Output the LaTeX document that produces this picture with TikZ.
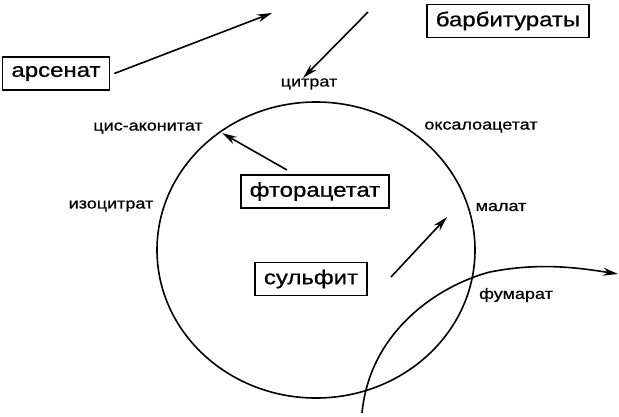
\documentclass[tikz,border=0pt]{standalone}
\usepackage{fontspec}
\setmainfont[FakeStretch=1.2,FakeBold=0.8]{Liberation Sans}
\usetikzlibrary{arrows.meta}
\tikzset{
  inhib/.style={draw, line width=1.6pt, inner xsep=9pt, minimum height=33pt, font=\fontsize{20}{24}\selectfont},
  metab/.style={font=\fontsize{15}{18}\selectfont},
  block/.style={line width=1.6pt, -{Stealth[length=15pt,width=8pt]}}
}
\begin{document}
\begin{tikzpicture}[x=1pt,y=-1pt]
			%%%%% START %%%%%
			\useasboundingbox (0,0) rectangle (619,416);
			
			\draw[line width=1.6pt] (316,250) ellipse [x radius=159pt, y radius=148pt];
			
			\node[metab] (cit) at (309,84) {цитрат};
			\node[metab] (cisacon) at (148,128) {цис-аконитат};
			\node[metab] (isocit) at (111,206) {изоцитрат};
			\node[metab] (oxac) at (481,127) {оксалоацетат};
			\node[metab] (mal) at (501,207) {малат};
			\node[metab] (fum) at (516,295) {фумарат};
			
			\node[inhib] (ars) at (56,73.5) {арсенат};
			\node[inhib] (barb) at (508,21) {барбитураты};
			\node[inhib] (fluor) at (315,191.5) {фторацетат};
			\node[inhib] (sulf) at (311,279) {сульфит};
			
			\coordinate (ars2) at (272,13);
			\coordinate (cit1) at (368,12);
			\coordinate (cit2) at (303,78);
			\coordinate (fl1) at (287,170);
			\coordinate (fl2) at (222,133);
			\coordinate (su1) at (391,277);
			\coordinate (su2) at (447,217);
			
			\draw[block] (ars.east) ++(4,0) -- (ars2);
			\draw[block] (cit1) -- (cit2);
			\draw[block] (fl1) -- (fl2);
			\draw[block] (su1) -- (su2);
			
			% fumarate pathway
			\draw[block] (362,413) .. controls (370,330) and (440,285) .. (490,272)
			  .. controls (540,262) and (580,268) .. (618,274);
			
			%%%%% END %%%%%
\end{tikzpicture}
\end{document}
